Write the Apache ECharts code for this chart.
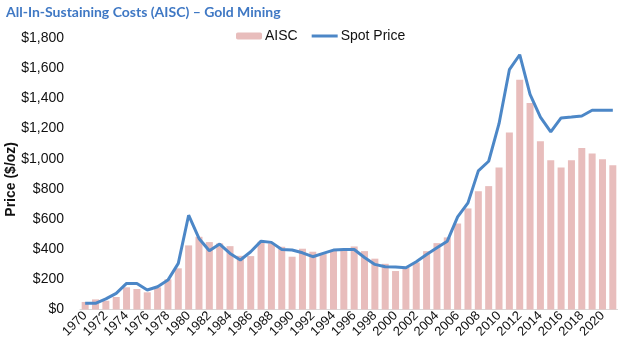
<!DOCTYPE html>
<html><head><meta charset="utf-8">
<script src="https://cdn.jsdelivr.net/npm/echarts@6/dist/echarts.min.js"></script>
<style>html,body{margin:0;padding:0;background:#fff}#c{width:618px;height:355px}</style>
</head><body><div id="c"></div>
<script>
const years = [];
for (let y = 1970; y <= 2021; y++) years.push(String(y));
const aisc = [50,67,58,83,147,136,114,147,200,273,425,482,447,438,420,356,354,449,438,416,350,403,383,367,389,389,418,387,337,303,255,281,312,387,440,478,570,670,784,818,941,1173,1524,1369,1115,990,941,990,1071,1034,996,957];
const spot = [41,41,70,107,173,173,129,151,195,306,625,471,389,434,372,328,383,453,445,398,394,376,350,372,394,398,398,345,299,283,281,277,317,365,409,453,614,707,919,983,1232,1590,1689,1427,1276,1177,1270,1276,1283,1321,1321,1321];
const yTicks = {min:0, max:1800, interval:200};

const chart = echarts.init(document.getElementById('c'), null, {renderer:'canvas'});
chart.setOption({
  animation:false,
  backgroundColor:'#fff',
  title:{text:'All-In-Sustaining Costs (AISC) – Gold Mining', left:1, top:0,
    textStyle:{fontFamily:'Lato', fontWeight:'bold', fontSize:14, color:'#3F78C4'}},
  legend:{top:24, left:231, itemWidth:26, itemHeight:7, itemGap:14, symbolKeepAspect:true,
    textStyle:{fontFamily:'Liberation Sans, Arial', fontSize:14, color:'#111', padding:[0,0,0,-2]},
    data:[{name:'AISC'},{name:'Spot Price', icon:'path://M0,0L26,0L26,3L0,3Z', itemStyle:{color:'#4C87C7'}}]},
  grid:{left:80, right:-1, top:38, bottom:45.5},
  xAxis:{type:'category', data:years, boundaryGap:true,
    axisLine:{lineStyle:{color:'#d9d9d9'}}, axisTick:{show:false},
    axisLabel:{interval:1, rotate:45, fontFamily:'Liberation Sans, Arial', fontSize:13, color:'#111', margin:4}},
  yAxis:{type:'value', min:yTicks.min, max:yTicks.max, interval:yTicks.interval,
    splitLine:{show:false}, axisLine:{show:false}, axisTick:{show:false},
    axisLabel:{margin:16, fontFamily:'Liberation Sans, Arial', fontSize:14, color:'#111',
      formatter:v=>'$'+v.toLocaleString('en-US')}},
  graphic:[{type:'text', left:4, top:142, rotation:Math.PI/2,
    style:{text:'Price ($/oz)', font:'bold 14px "Liberation Sans", Arial', fill:'#111'}}],
  series:[
    {name:'AISC', type:'bar', data:aisc, barWidth:7, itemStyle:{color:'#E8BDBC'}},
    {name:'Spot Price', type:'line', data:spot, symbol:'none', lineStyle:{width:3, color:'#4C87C7'}, itemStyle:{color:'#4C87C7'}}
  ]
});
</script></body></html>
